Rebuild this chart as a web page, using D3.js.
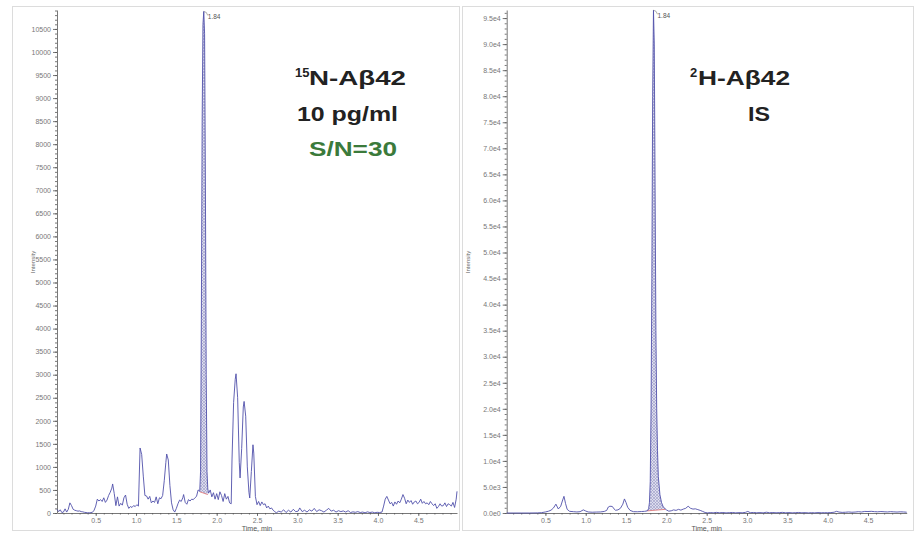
<!DOCTYPE html>
<html>
<head>
<meta charset="utf-8">
<script src="https://cdn.jsdelivr.net/npm/d3@7"></script>
<style>
  body { margin: 0; background: #fff; }
  svg { display: block; font-family: "Liberation Sans", Arial, sans-serif; }
  .axis text { fill: #777; font-size: 7px; }
  .axis path, .axis line { stroke: #555; stroke-width: 0.8; }
</style>
</head>
<body>
<svg id="chart" width="916" height="533"></svg>
<script>
// 15N-Abeta42 trace, [time (min), intensity]
var leftTrace = [
  [0.02,80],[0.04,30],[0.06,70],[0.08,10],[0.10,20],[0.12,90],[0.14,20],[0.16,80],[0.18,220],[0.20,160],
  [0.22,80],[0.24,60],[0.26,50],[0.28,40],[0.30,45],[0.32,30],[0.34,25],[0.36,15],[0.38,10],[0.40,5],
  [0.42,5],[0.44,10],[0.46,15],[0.48,60],[0.50,150],[0.52,300],[0.54,260],[0.56,290],[0.58,250],[0.60,330],
  [0.62,230],[0.64,280],[0.66,380],[0.68,450],[0.70,540],[0.71,630],[0.73,420],[0.75,160],[0.77,350],[0.79,150],
  [0.81,210],[0.83,170],[0.85,330],[0.87,390],[0.89,190],[0.91,100],[0.93,140],[0.95,120],[0.97,160],[0.99,140],
  [1.01,180],[1.03,150],[1.05,1410],[1.07,1270],[1.09,800],[1.11,380],[1.13,370],[1.15,300],[1.17,360],[1.19,220],
  [1.21,260],[1.23,230],[1.25,350],[1.27,200],[1.29,330],[1.31,310],[1.33,380],[1.35,700],[1.37,1100],[1.38,1280],
  [1.40,1150],[1.42,600],[1.44,220],[1.46,70],[1.48,20],[1.50,100],[1.52,200],[1.54,280],[1.56,250],[1.58,330],
  [1.59,400],[1.61,230],[1.63,190],[1.65,290],[1.67,260],[1.69,300],[1.71,290],[1.73,330],[1.75,360],[1.77,500],
  [1.79,470],[1.80,900],[1.81,4200],[1.82,8500],[1.83,10600],[1.84,10880],[1.85,10400],[1.86,7200],[1.87,3000],[1.88,900],
  [1.89,520],[1.90,430],[1.92,500],[1.94,350],[1.96,440],[1.98,300],[2.00,420],[2.02,290],[2.04,460],[2.06,380],
  [2.08,250],[2.10,420],[2.12,300],[2.14,360],[2.16,220],[2.18,200],[2.19,1150],[2.21,2400],[2.23,2900],[2.24,3020],
  [2.26,2500],[2.28,1100],[2.29,760],[2.31,1400],[2.33,2300],[2.34,2420],[2.36,2100],[2.38,1000],[2.40,450],[2.41,325],
  [2.43,900],[2.45,1480],[2.46,1300],[2.48,360],[2.50,180],[2.52,250],[2.54,160],[2.56,240],[2.58,180],[2.60,200],
  [2.62,110],[2.64,150],[2.66,90],[2.68,110],[2.70,60],[2.72,30],[2.74,5],[2.77,40],[2.80,20],[2.83,70],
  [2.86,10],[2.89,60],[2.92,20],[2.95,80],[2.98,30],[3.01,40],[3.03,110],[3.06,30],[3.09,60],[3.12,20],
  [3.15,70],[3.18,40],[3.21,100],[3.24,30],[3.27,70],[3.30,50],[3.33,20],[3.36,60],[3.39,100],[3.42,40],
  [3.45,60],[3.48,20],[3.51,50],[3.54,30],[3.57,45],[3.60,20],[3.63,50],[3.66,10],[3.69,25],[3.72,15],
  [3.75,30],[3.78,10],[3.81,20],[3.84,5],[3.87,25],[3.90,10],[3.93,20],[3.96,5],[3.99,15],[4.02,10],
  [4.05,20],[4.07,150],[4.09,300],[4.11,360],[4.13,280],[4.15,200],[4.17,230],[4.19,150],[4.21,240],[4.23,190],
  [4.25,260],[4.27,220],[4.29,300],[4.31,400],[4.33,320],[4.35,200],[4.37,280],[4.39,230],[4.41,270],[4.43,190],
  [4.45,240],[4.47,260],[4.49,200],[4.51,230],[4.53,300],[4.55,210],[4.57,250],[4.59,200],[4.61,220],[4.63,180],
  [4.65,250],[4.67,200],[4.69,160],[4.71,200],[4.73,100],[4.75,140],[4.77,200],[4.79,150],[4.81,160],[4.83,220],
  [4.85,140],[4.87,200],[4.89,180],[4.91,150],[4.93,230],[4.95,120],[4.97,300],[4.98,470]
];

// 2H-Abeta42 internal standard trace
var rightTrace = [
  [0.02,0],[0.10,0],[0.20,0],[0.30,0],[0.40,20],[0.45,60],[0.50,200],[0.54,350],[0.57,550],[0.60,960],
  [0.63,1700],[0.66,770],[0.69,1300],[0.71,2300],[0.73,3200],[0.75,1800],[0.77,700],[0.80,320],[0.85,250],[0.89,200],
  [0.93,250],[0.97,600],[1.00,380],[1.03,200],[1.08,150],[1.13,180],[1.18,200],[1.23,300],[1.26,500],[1.28,1150],
  [1.30,1300],[1.33,1250],[1.35,800],[1.37,520],[1.40,600],[1.43,900],[1.46,1700],[1.48,2700],[1.50,2000],[1.52,1100],
  [1.55,500],[1.59,260],[1.64,240],[1.69,280],[1.73,320],[1.76,400],[1.78,800],[1.79,2000],[1.80,6000],[1.81,20000],
  [1.82,45000],[1.83,80000],[1.84,96500],[1.85,90000],[1.86,62000],[1.87,35000],[1.88,20000],[1.89,12000],[1.90,7000],[1.92,3500],
  [1.94,2000],[1.96,1200],[1.98,900],[2.00,600],[2.03,350],[2.06,420],[2.09,600],[2.12,500],[2.15,700],[2.18,550],
  [2.21,750],[2.24,900],[2.27,1300],[2.30,900],[2.33,750],[2.36,800],[2.39,650],[2.42,500],[2.45,300],[2.48,100],
  [2.51,20],[2.55,80],[2.58,30],[2.62,120],[2.66,40],[2.70,90],[2.74,20],[2.78,60],[2.82,100],[2.86,30],
  [2.90,70],[2.94,40],[2.98,120],[3.01,300],[3.04,60],[3.08,100],[3.12,40],[3.16,80],[3.20,30],[3.24,150],
  [3.28,50],[3.32,90],[3.36,40],[3.40,70],[3.44,120],[3.48,40],[3.52,80],[3.56,30],[3.60,60],[3.64,100],
  [3.68,40],[3.72,70],[3.76,20],[3.80,60],[3.84,30],[3.88,80],[3.92,40],[3.96,60],[4.00,50],[4.04,80],
  [4.08,150],[4.11,320],[4.14,180],[4.18,120],[4.22,150],[4.26,200],[4.30,150],[4.34,180],[4.38,250],[4.42,200],
  [4.46,300],[4.50,280],[4.54,320],[4.58,260],[4.62,230],[4.66,280],[4.70,240],[4.74,200],[4.78,260],[4.82,220],
  [4.86,180],[4.90,230],[4.94,200],[4.98,150]
];

// integrated peak: [start time, baseline], [end time, baseline]
var leftPeakBase = [[1.79, 460], [1.89, 400]];
var rightPeakBase = [[1.76, 400], [1.99, 700]];
var peakTime = 1.84;

var xTicks = [0.5, 1.0, 1.5, 2.0, 2.5, 3.0, 3.5, 4.0, 4.5];
var leftYTicks = [0, 500, 1000, 1500, 2000, 2500, 3000, 3500, 4000, 4500, 5000, 5500, 6000, 6500, 7000,
                  7500, 8000, 8500, 9000, 9500, 10000, 10500];
var rightYTicks = [0, 5000, 10000, 15000, 20000, 25000, 30000, 35000, 40000, 45000, 50000, 55000, 60000,
                   65000, 70000, 75000, 80000, 85000, 90000, 95000];

var leftLabels = {sup: "15", main: "N-Aβ42", line2: "10 pg/ml", line3: "S/N=30"};
var rightLabels = {sup: "2", main: "H-Aβ42", line2: "IS"};

var svg = d3.select("#chart");

// hatch for the integrated area
var defs = svg.append("defs");
var pat = defs.append("pattern")
    .attr("id", "hatch")
    .attr("patternUnits", "userSpaceOnUse")
    .attr("width", 3).attr("height", 3);
pat.append("rect").attr("width", 3).attr("height", 3).attr("fill", "#dcdcee");
pat.append("path").attr("d", "M0,0L3,3M3,0L0,3")
    .attr("stroke", "#9a9ac4").attr("stroke-width", 0.6);

function eFormat(v) {
    if (v === 0) return "0.0e0";
    return d3.format(".1e")(v).replace("+", "");
}

function drawPanel(opt) {
    var g = svg.append("g");

    // frame
    g.append("rect")
        .attr("x", opt.frame[0]).attr("y", opt.frame[1])
        .attr("width", opt.frame[2]).attr("height", opt.frame[3])
        .attr("fill", "none").attr("stroke", "#dcdcdc");

    var x = d3.scaleLinear().domain([0.02, 4.98]).range(opt.xRange);
    var y = d3.scaleLinear().domain([0, opt.yMax]).range([513, 10]);

    // minor ticks
    g.append("g")
        .attr("class", "axis")
        .attr("transform", "translate(" + opt.xRange[0] + ",0)")
        .call(d3.axisLeft(y).tickValues(d3.range(0, opt.yMax, opt.minorStep)).tickSize(2).tickFormat(""))
        .select(".domain").remove();

    g.append("g")
        .attr("class", "axis")
        .attr("transform", "translate(" + opt.xRange[0] + ",0)")
        .call(d3.axisLeft(y).tickValues(opt.yTicks).tickSize(4).tickPadding(2)
            .tickSizeOuter(0).tickFormat(opt.fmt));

    g.append("g")
        .attr("class", "axis")
        .attr("transform", "translate(0,513)")
        .call(d3.axisBottom(x).tickValues(d3.range(0.1, 4.95, 0.1)).tickSize(1.5).tickFormat(""))
        .select(".domain").remove();

    g.append("g")
        .attr("class", "axis")
        .attr("transform", "translate(0,513)")
        .call(d3.axisBottom(x).tickValues(xTicks).tickSize(3).tickPadding(2.5)
            .tickSizeOuter(0).tickFormat(d3.format(".1f")));

    g.append("text")
        .attr("x", (opt.xRange[0] + opt.xRange[1]) / 2).attr("y", 531)
        .attr("text-anchor", "middle")
        .style("font-size", "7px").style("fill", "#555")
        .text("Time, min");

    g.append("text")
        .attr("transform", "translate(" + opt.yLabelX + ",262) rotate(-90)")
        .attr("text-anchor", "middle")
        .style("font-size", "6px").style("fill", "#666")
        .text("Intensity");

    // integrated peak area
    var b0 = opt.base[0], b1 = opt.base[1];
    var inPeak = opt.trace.filter(d => d[0] >= b0[0] && d[0] <= b1[0]);
    var area = inPeak.concat([b1, b0]);
    g.append("path")
        .attr("d", d3.line().x(d => x(d[0])).y(d => y(d[1]))(area) + "Z")
        .attr("fill", "url(#hatch)").attr("stroke", "none");
    g.append("line")
        .attr("x1", x(b0[0])).attr("y1", y(b0[1]))
        .attr("x2", x(b1[0])).attr("y2", y(b1[1]))
        .attr("stroke", "#e07070").attr("stroke-width", 0.8);

    var line = d3.line().x(d => x(d[0])).y(d => y(d[1]));
    g.append("path")
        .attr("d", line(opt.trace))
        .attr("fill", "none")
        .attr("stroke", "#5050aa")
        .attr("stroke-width", 0.9)
        .attr("stroke-linejoin", "round");

    // apex label
    var ax = x(peakTime), ay = y(d3.max(opt.trace, d => d[1]));
    g.append("path")
        .attr("d", "M" + ax + "," + ay + " q3,0 4,4")
        .attr("fill", "none").attr("stroke", "#777").attr("stroke-width", 0.6);
    g.append("text")
        .attr("x", ax + 4).attr("y", ay + 8)
        .style("font-size", "6.5px").style("fill", "#555")
        .text(peakTime.toFixed(2));
}

drawPanel({
    frame: [12.5, 6.5, 447, 524],
    xRange: [57, 457],
    yMax: 10911,
    yTicks: leftYTicks,
    minorStep: 100,
    fmt: d3.format("d"),
    yLabelX: 35,
    trace: leftTrace,
    base: leftPeakBase
});

drawPanel({
    frame: [462.5, 6.5, 451, 524],
    xRange: [506.7, 906.7],
    yMax: 96550,
    yTicks: rightYTicks,
    minorStep: 1000,
    fmt: eFormat,
    yLabelX: 470,
    trace: rightTrace,
    base: rightPeakBase
});

// annotations
function bigText(x, y, txt, len, color) {
    svg.append("text")
        .attr("x", x).attr("y", y)
        .attr("textLength", len).attr("lengthAdjust", "spacingAndGlyphs")
        .style("font-size", "21px").style("font-weight", "bold")
        .style("fill", color || "#222")
        .text(txt);
}
function supText(x, y, txt) {
    svg.append("text")
        .attr("x", x).attr("y", y)
        .style("font-size", "13px").style("font-weight", "bold").style("fill", "#222")
        .text(txt);
}

supText(295, 77, leftLabels.sup);
bigText(309, 85, leftLabels.main, 97);
bigText(297, 121, leftLabels.line2, 101);
bigText(309, 156, leftLabels.line3, 88, "#3b7a3b");

supText(690, 77, rightLabels.sup);
bigText(698, 85, rightLabels.main, 92);
bigText(748, 121, rightLabels.line2, 22);
</script>
</body>
</html>
